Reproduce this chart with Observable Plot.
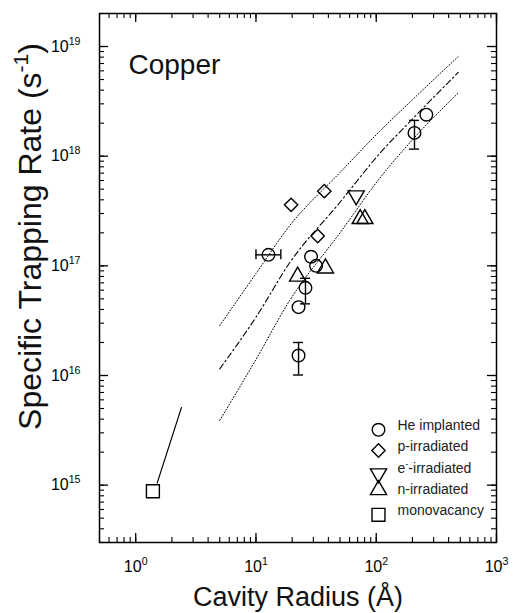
<!DOCTYPE html>
<html><head><meta charset="utf-8">
<script src="https://cdn.jsdelivr.net/npm/d3@7"></script>
<script src="https://cdn.jsdelivr.net/npm/@observablehq/plot@0.6"></script>
<style>body{margin:0;background:#fff} #chart{position:relative;width:515px;height:613px} #chart svg{position:absolute;left:0;top:0}</style>
</head><body><div id="chart"></div>
<script>
// ---- data ----
const heX = [261, 208, 12.7, 28.7, 31.6, 25.8, 22.6, 22.6];
const heY = [2.39e18, 1.63e18, 1.26e17, 1.21e17, 1.0e17, 6.3e16, 4.2e16, 1.52e16];
const pX = [37, 19.6, 32.6];
const pY = [4.8e17, 3.6e17, 1.87e17];
const eX = [68.1];
const eY = [4.38e17];
const nX = [73.6, 80.4, 37.8, 22.2];
const nY = [2.68e17, 2.68e17, 9.5e16, 8.0e16];
const monoX = [1.39];
const monoY = [8.8e14];

// vertical error bars (He implanted)
const vErrX = [208, 25.8, 22.6];
const vErrLo = [1.16e18, 4.5e16, 1.01e16];
const vErrHi = [2.12e18, 7.7e16, 2.0e16];
// horizontal error bar
const hErrY = [1.26e17];
const hErrLo = [10];
const hErrHi = [16.1];

// model curves
const fitX = [5, 10, 19, 50, 107, 200, 480];
const upperY = [2.85e16, 8.5e16, 2.31e17, 7.1e17, 1.69e18, 3.27e18, 8.1e18];
const centerY = [1.15e16, 3.4e16, 1.06e17, 3.8e17, 1.06e18, 2.18e18, 5.8e18];
const lowerY = [3.9e15, 1.4e16, 4.8e16, 2.0e17, 6.3e17, 1.41e18, 3.76e18];

// monovacancy line
const monoLineX = [1.51, 2.40];
const monoLineY = [1.05e15, 5.1e15];

// ticks
const xMajor = [1, 10, 100, 1000];
const yMajor = [1e15, 1e16, 1e17, 1e18, 1e19];
const xDomain = [0.5, 1000];
const yDomain = [3e14, 2e19];

// legend
const legendLabels = ["He implanted", "p-irradiated", "e^{-}-irradiated", "n-irradiated", "monovacancy"];
const legendSymbols = ["circle", "diamond2", "triangle", "triangle", "square"];
const legendRotate = [0, 0, 180, 0, 0];
const legendR = [6.3, 6, 6, 6, 7.3];
const legendSymDy = [-112.7, -92, -69, -52.5, -27.7];
const legendTextDy = [-112.7, -92, -69.5, -48.7, -27.7];

// ---- layout ----
const W = 515, H = 613;
const mL = 99, mR = 19, mT = 13, mB = 71;
const fW = W - mL - mR, fH = H - mT - mB;
const xMinor = d3.scaleLog().domain(xDomain).ticks();
const yMinor = d3.scaleLog().domain(yDomain).ticks();
const sup = v => "10^{" + Math.round(Math.log10(v)) + "}";
const sw = 1.4;

const common = {
  width: W, height: H,
  marginLeft: mL, marginRight: mR, marginTop: mT, marginBottom: mB,
  x: {type: "log", domain: xDomain, axis: null},
  y: {type: "log", domain: yDomain, axis: null}
};

const legendMarks = [];
legendLabels.forEach((lab, i) => {
  legendMarks.push(Plot.dot([lab], {frameAnchor: "bottom-right", dx: -118, dy: legendSymDy[i],
    symbol: legendSymbols[i], r: legendR[i], rotate: legendRotate[i], stroke: "black", fill: "none", strokeWidth: sw}));
  legendMarks.push(Plot.text([lab], {frameAnchor: "bottom-right", dx: -99, dy: legendTextDy[i],
    text: d => d, textAnchor: "start", fontSize: 14, fill: "#222"}));
});

const chart = Plot.plot({
  ...common,
  style: {fontFamily: "'Liberation Sans', Arial, Helvetica, sans-serif", background: "white", color: "black"},
  marks: [
    Plot.frame({stroke: "black", fill: "none", strokeWidth: 1.5}),
    Plot.axisX({ticks: xMajor, anchor: "bottom", tickSize: 0, tickPadding: 18, fontSize: 16, tickFormat: sup, label: null}),
    Plot.axisY({ticks: yMajor, anchor: "left", tickSize: 0, tickPadding: 19, fontSize: 16, tickFormat: sup, label: null}),
    // curves
    Plot.line(fitX, {x: fitX, y: upperY, curve: "monotone-x", stroke: "black", strokeWidth: 1, strokeDasharray: "1 2"}),
    Plot.line(fitX, {x: fitX, y: lowerY, curve: "monotone-x", stroke: "black", strokeWidth: 1, strokeDasharray: "1 2"}),
    Plot.line(fitX, {x: fitX, y: centerY, curve: "monotone-x", stroke: "black", strokeWidth: 1.1, strokeDasharray: "6 3 1.5 3"}),
    Plot.line(monoLineX, {x: monoLineX, y: monoLineY, stroke: "black", strokeWidth: 1.2}),
    // error bars
    Plot.ruleX(vErrX, {x: vErrX, y1: vErrLo, y2: vErrHi, strokeWidth: sw}),
    Plot.ruleY(vErrX, {x1: vErrX, x2: vErrX, y: vErrLo, insetLeft: -5, insetRight: -5, strokeWidth: sw}),
    Plot.ruleY(vErrX, {x1: vErrX, x2: vErrX, y: vErrHi, insetLeft: -5, insetRight: -5, strokeWidth: sw}),
    Plot.ruleY(hErrY, {y: hErrY, x1: hErrLo, x2: hErrHi, strokeWidth: sw}),
    Plot.ruleX(hErrY, {x: hErrLo, y1: hErrY, y2: hErrY, insetTop: -5, insetBottom: -5, strokeWidth: sw}),
    Plot.ruleX(hErrY, {x: hErrHi, y1: hErrY, y2: hErrY, insetTop: -5, insetBottom: -5, strokeWidth: sw}),
    // data points
    Plot.dot(heX, {x: heX, y: heY, symbol: "circle", r: 6.3, stroke: "black", fill: "none", strokeWidth: sw}),
    Plot.dot(pX, {x: pX, y: pY, symbol: "diamond2", r: 6, stroke: "black", fill: "none", strokeWidth: sw}),
    Plot.dot(eX, {x: eX, y: eY, symbol: "triangle", rotate: 180, r: 6, stroke: "black", fill: "none", strokeWidth: sw}),
    Plot.dot(nX, {x: nX, y: nY, symbol: "triangle", r: 6, stroke: "black", fill: "none", strokeWidth: sw}),
    Plot.dot(monoX, {x: monoX, y: monoY, symbol: "square", r: 7.3, stroke: "black", fill: "none", strokeWidth: sw}),
    // texts
    Plot.text(["Copper"], {frameAnchor: "top-left", dx: 29, dy: 41, text: d => d, textAnchor: "start", fontSize: 28, fill: "#111"}),
    Plot.text(["Cavity Radius (Å)"], {frameAnchor: "bottom", dy: 63, text: d => d, textAnchor: "middle", fontSize: 27, fill: "#111"}),
    Plot.text(["Specific Trapping Rate (s^{-1})"], {frameAnchor: "left", dx: -69, dy: -41.5, rotate: -90, text: d => d, textAnchor: "middle", fontSize: 32, fill: "#111"}),
    ...legendMarks
  ]
});

// inward ticks on all four sides, drawn on an overlaid plot with identical scales
const tickChart = Plot.plot({
  ...common,
  style: {background: "transparent", color: "black"},
  marks: [
    Plot.ruleX(xMinor, {x: d => d, insetTop: fH - 5, strokeWidth: 1.1}),
    Plot.ruleX(xMinor, {x: d => d, insetBottom: fH - 5, strokeWidth: 1.1}),
    Plot.ruleY(yMinor, {y: d => d, insetRight: fW - 5, strokeWidth: 1.1}),
    Plot.ruleY(yMinor, {y: d => d, insetLeft: fW - 5, strokeWidth: 1.1}),
    Plot.ruleX(xMajor, {x: d => d, insetTop: fH - 9, strokeWidth: 1.3}),
    Plot.ruleX(xMajor, {x: d => d, insetBottom: fH - 9, strokeWidth: 1.3}),
    Plot.ruleY(yMajor, {y: d => d, insetRight: fW - 9, strokeWidth: 1.3}),
    Plot.ruleY(yMajor, {y: d => d, insetLeft: fW - 9, strokeWidth: 1.3})
  ]
});

const host = document.getElementById("chart");
host.appendChild(chart);
host.appendChild(tickChart);

// superscripts as real tspans
chart.querySelectorAll("text").forEach(el => {
  const s = el.textContent;
  if (!s.includes("^{")) return;
  const base = parseFloat(getComputedStyle(el).fontSize) || 16;
  el.textContent = "";
  s.split(/\^\{([^}]*)\}/).forEach((p, i) => {
    if (!p) return;
    const t = document.createElementNS("http://www.w3.org/2000/svg", "tspan");
    t.textContent = p;
    if (i % 2 === 1) {
      t.setAttribute("baseline-shift", (base * 0.42).toFixed(1));
      t.setAttribute("font-size", (base * 0.66).toFixed(1));
    }
    el.appendChild(t);
  });
});
</script></body></html>
